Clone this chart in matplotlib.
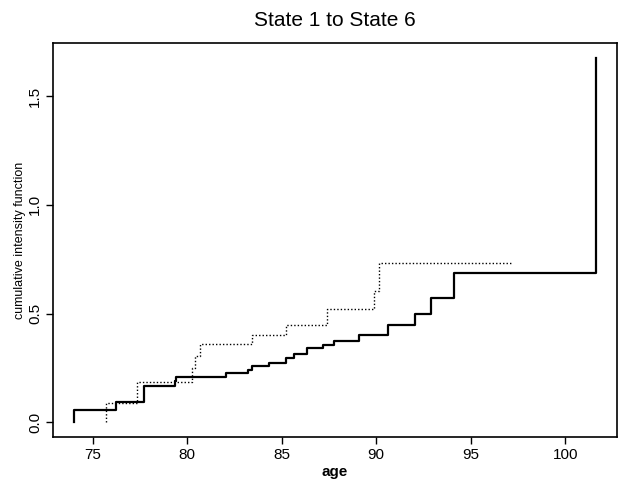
import numpy as np
import matplotlib
matplotlib.use('Agg')
import matplotlib.pyplot as plt

plt.rcParams['font.family'] = ['Liberation Sans', 'DejaVu Sans']

# estimated cumulative intensity, state 1 -> state 6 (solid)
edad_solida = [74.0, 74.0, 76.25, 77.71, 79.34, 79.41, 82.07, 83.19, 83.45, 84.35, 85.23,
               85.67, 86.32, 87.17, 87.76, 89.10, 90.63, 92.07, 92.92, 94.09, 101.63]
cum_solida = [0.0, 0.055, 0.095, 0.167, 0.19, 0.21, 0.226, 0.243, 0.258, 0.275, 0.296,
              0.313, 0.342, 0.358, 0.375, 0.404, 0.448, 0.50, 0.571, 0.687, 1.677]

# second estimate (dotted)
edad_punteada = [75.72, 75.72, 77.32, 80.26, 80.43, 80.66, 83.42, 85.22, 87.38, 89.87, 90.15, 97.2]
cum_punteada = [0.0, 0.09, 0.187, 0.252, 0.303, 0.36, 0.402, 0.448, 0.52, 0.605, 0.731, 0.731]

xticks = [75, 80, 85, 90, 95, 100]
yticks = [0.0, 0.5, 1.0, 1.5]

fig = plt.figure(figsize=(6.19, 4.80), dpi=100)
ax = fig.add_axes([0.0856, 0.0896, 0.9110, 0.8208])

ax.step(edad_solida, cum_solida, where='post', color='black', lw=1.6)
ax.step(edad_punteada, cum_punteada, where='post', color='black', lw=1.0,
        linestyle=(0, (1, 1.5)))

# R-style 4% padding
xmin, xmax = min(edad_solida), max(edad_solida)
ymin, ymax = 0.0, max(cum_solida)
ax.set_xlim(xmin - 0.04 * (xmax - xmin), xmax + 0.04 * (xmax - xmin))
ax.set_ylim(ymin - 0.04 * (ymax - ymin), ymax + 0.04 * (ymax - ymin))

ax.set_xticks(xticks)
ax.set_xticklabels([str(t) for t in xticks], fontsize=11)
ax.set_yticks(yticks)
ax.set_yticklabels([f'{t:.1f}' for t in yticks], fontsize=11, rotation=90, va='center')
ax.tick_params(direction='out', length=5, width=1, pad=3)

for s in ax.spines.values():
    s.set_linewidth(1.2)

ax.set_title('State 1 to State 6', fontsize=15, pad=12)
ax.set_xlabel('age', fontsize=11, fontweight='bold', labelpad=2)
ax.set_ylabel('cumulative intensity function', fontsize=9, labelpad=1)

fig.savefig('out.png', dpi=100)
